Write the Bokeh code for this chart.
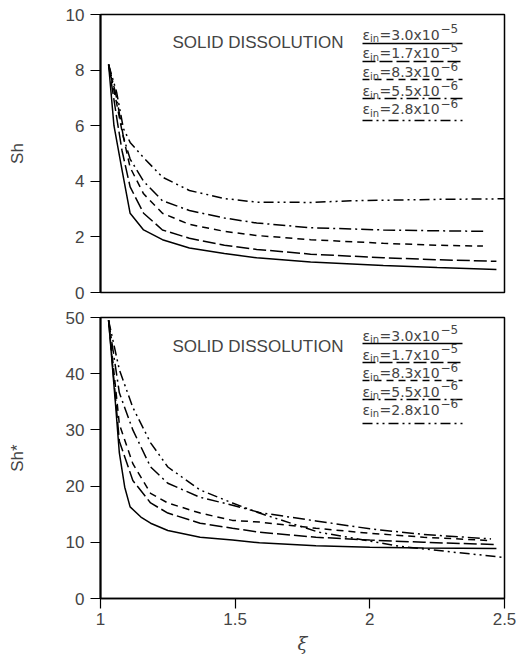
from bokeh.plotting import figure
from bokeh.layouts import column
from bokeh.models import Range1d, FixedTicker, Label
from bokeh.embed import file_html
from bokeh.resources import INLINE

# ---------------- data ----------------
# Upper panel: Sh vs xi
top_xi_e30 = [1.03, 1.05, 1.08, 1.11, 1.16, 1.23, 1.33, 1.46, 1.58, 1.78, 2.05, 2.25, 2.47]
top_sh_e30 = [8.2, 6.0, 4.4, 2.85, 2.25, 1.9, 1.6, 1.4, 1.25, 1.1, 0.97, 0.9, 0.83]
top_xi_e17 = [1.03, 1.06, 1.08, 1.11, 1.16, 1.23, 1.33, 1.46, 1.58, 1.78, 2.05, 2.25, 2.47]
top_sh_e17 = [8.2, 6.3, 5.1, 3.8, 2.85, 2.25, 1.95, 1.7, 1.55, 1.38, 1.25, 1.18, 1.12]
top_xi_e83 = [1.03, 1.06, 1.08, 1.11, 1.16, 1.23, 1.33, 1.46, 1.58, 1.78, 2.05, 2.25, 2.42]
top_sh_e83 = [8.2, 6.8, 5.8, 4.5, 3.55, 2.85, 2.45, 2.2, 2.05, 1.9, 1.77, 1.7, 1.67]
top_xi_e55 = [1.03, 1.06, 1.085, 1.11, 1.16, 1.23, 1.33, 1.46, 1.58, 1.78, 2.05, 2.25, 2.43]
top_sh_e55 = [8.2, 7.0, 5.6, 4.8, 4.0, 3.3, 2.95, 2.68, 2.5, 2.33, 2.25, 2.22, 2.2]
top_xi_e28 = [1.03, 1.06, 1.085, 1.11, 1.16, 1.23, 1.33, 1.46, 1.58, 1.78, 1.93, 2.25, 2.5]
top_sh_e28 = [8.2, 7.2, 5.9, 5.4, 4.85, 4.15, 3.67, 3.38, 3.25, 3.24, 3.3, 3.35, 3.37]

# Lower panel: Sh* vs xi
bot_xi_e30 = [1.03, 1.055, 1.07, 1.09, 1.11, 1.15, 1.186, 1.25, 1.37, 1.49, 1.59, 1.8, 2.0, 2.2, 2.47]
bot_sh_e30 = [49.5, 35.0, 25.9, 19.8, 16.3, 14.5, 13.4, 12.1, 10.9, 10.4, 9.9, 9.4, 9.1, 9.0, 8.9]
bot_xi_e17 = [1.03, 1.07, 1.12, 1.186, 1.25, 1.37, 1.49, 1.59, 1.8, 2.0, 2.2, 2.47]
bot_sh_e17 = [49.5, 28.0, 21.0, 17.0, 15.2, 13.4, 12.5, 11.8, 10.9, 10.4, 10.0, 9.6]
bot_xi_e83 = [1.03, 1.07, 1.12, 1.186, 1.25, 1.37, 1.49, 1.59, 1.8, 2.0, 2.2, 2.45]
bot_sh_e83 = [49.5, 31.0, 24.0, 18.7, 17.0, 15.2, 13.9, 13.6, 12.5, 11.6, 10.9, 10.3]
bot_xi_e55 = [1.03, 1.07, 1.12, 1.186, 1.25, 1.37, 1.49, 1.59, 1.8, 2.0, 2.2, 2.45]
bot_sh_e55 = [49.5, 36.6, 30.0, 23.4, 20.5, 18.0, 16.6, 15.3, 13.8, 12.4, 11.4, 10.6]
bot_xi_e28 = [1.03, 1.07, 1.12, 1.186, 1.25, 1.37, 1.49, 1.59, 1.81, 2.11, 2.3, 2.5]
bot_sh_e28 = [49.5, 40.7, 34.0, 27.7, 23.4, 19.3, 17.0, 15.2, 11.8, 9.3, 8.3, 7.3]

legend_coef = ["3.0", "1.7", "8.3", "5.5", "2.8"]
legend_exp = ["\u22125", "\u22125", "\u22126", "\u22126", "\u22126"]
x_ticks = [1, 1.5, 2, 2.5]
x_tick_labels = ["1", "1.5", "2", "2.5"]
top_y_ticks = [0, 2, 4, 6, 8, 10]
bot_y_ticks = [0, 10, 20, 30, 40, 50]

# ---------------- styling ----------------
dashes = ["solid", "13 4", "7 5", "12 4 2 4", "10 4 2 4 2 4"]
FRAME_W = 404
XMIN, XMAX = 1.0, 2.5
FONT = "Liberation Sans"


def px_x(off):
    return XMIN + (XMAX - XMIN) * off / FRAME_W


def make_fig(ymax, frame_h, border_top, border_bottom, ylabel, yticks, show_x):
    p = figure(frame_width=FRAME_W, frame_height=frame_h,
               x_range=Range1d(XMIN, XMAX), y_range=Range1d(0, ymax),
               output_backend="svg", toolbar_location=None,
               min_border_left=100, min_border_right=12,
               min_border_top=border_top, min_border_bottom=border_bottom,
               background_fill_color="white", border_fill_color="white")
    p.grid.visible = False
    p.outline_line_color = "black"
    p.outline_line_width = 1.5
    p.outline_line_alpha = 1.0
    ax = p.yaxis[0]
    ax.ticker = FixedTicker(ticks=yticks)
    ax.minor_tick_line_color = None
    ax.major_tick_out = 10
    ax.major_tick_in = 0
    ax.major_tick_line_width = 1.2
    ax.axis_line_width = 2
    ax.major_label_text_font = FONT
    ax.major_label_text_font_size = "17px"
    ax.major_label_standoff = 6
    ax.axis_label = ylabel
    ax.axis_label_text_font = FONT
    ax.axis_label_text_font_size = "17px"
    ax.axis_label_text_font_style = "normal"
    ax.axis_label_standoff = 36
    xa = p.xaxis[0]
    if show_x:
        xa.ticker = FixedTicker(ticks=x_ticks)
        xa.major_label_overrides = {t: s for t, s in zip(x_ticks, x_tick_labels)}
        xa.minor_tick_line_color = None
        xa.major_tick_out = 10
        xa.major_tick_in = 0
        xa.major_tick_line_width = 1.2
        xa.axis_line_width = 1.5
        xa.major_label_text_font = FONT
        xa.major_label_text_font_size = "17px"
        xa.major_label_standoff = 4
        xa.axis_label = "\u03be"
        xa.axis_label_text_font = "DejaVu Serif"
        xa.axis_label_text_font_size = "18px"
        xa.axis_label_text_font_style = "italic"
        xa.axis_label_standoff = 5
    else:
        xa.visible = False
    return p


def decorate(p, ymax, frame_h, title_off, mid_offs, line_offs):
    def py(off):
        return ymax * (1 - off / frame_h)

    p.add_layout(Label(x=px_x(72), y=py(title_off), text="SOLID DISSOLUTION",
                       text_font=FONT, text_font_size="17px",
                       text_baseline="middle", text_align="left"))
    x0 = 262
    for i in range(5):
        c = mid_offs[i]
        p.add_layout(Label(x=px_x(x0), y=py(c), text="\u03b5", text_font="DejaVu Sans",
                           text_font_size="14px", text_baseline="middle"))
        p.add_layout(Label(x=px_x(x0 + 7.5), y=py(c + 4), text="in",
                           text_font="DejaVu Sans", text_font_size="10px",
                           text_baseline="middle"))
        p.add_layout(Label(x=px_x(x0 + 17), y=py(c), text="=" + legend_coef[i] + "x10",
                           text_font="DejaVu Sans", text_font_size="14px",
                           text_baseline="middle"))
        p.add_layout(Label(x=px_x(x0 + 78), y=py(c - 6), text=legend_exp[i],
                           text_font="DejaVu Sans", text_font_size="12px",
                           text_baseline="middle"))
        yl = py(line_offs[i])
        p.line([px_x(x0), px_x(x0 + 100)], [yl, yl], line_color="black",
               line_width=1.3, line_dash=dashes[i])


# ---------------- upper panel ----------------
p1 = make_fig(10, 278, 14, 13, "Sh", top_y_ticks, False)
top_series = [(top_xi_e30, top_sh_e30), (top_xi_e17, top_sh_e17), (top_xi_e83, top_sh_e83),
              (top_xi_e55, top_sh_e55), (top_xi_e28, top_sh_e28)]
for (xs, ys), d in zip(top_series, dashes):
    p1.line(xs, ys, line_color="black", line_width=1.5, line_dash=d)
decorate(p1, 10, 278, 27.5, [20, 38.5, 57.5, 76.5, 94.5], [29, 47, 65, 84, 106])

# ---------------- lower panel ----------------
p2 = make_fig(50, 281, 12, 60, "Sh*", bot_y_ticks, True)
bot_series = [(bot_xi_e30, bot_sh_e30), (bot_xi_e17, bot_sh_e17), (bot_xi_e83, bot_sh_e83),
              (bot_xi_e55, bot_sh_e55), (bot_xi_e28, bot_sh_e28)]
for (xs, ys), d in zip(bot_series, dashes):
    p2.line(xs, ys, line_color="black", line_width=1.5, line_dash=d)
decorate(p2, 50, 281, 29, [18, 37, 55.5, 74, 92], [26, 45, 63, 82, 106])

layout = column(p1, p2)
open("out.html", "w").write(file_html(layout, INLINE))
